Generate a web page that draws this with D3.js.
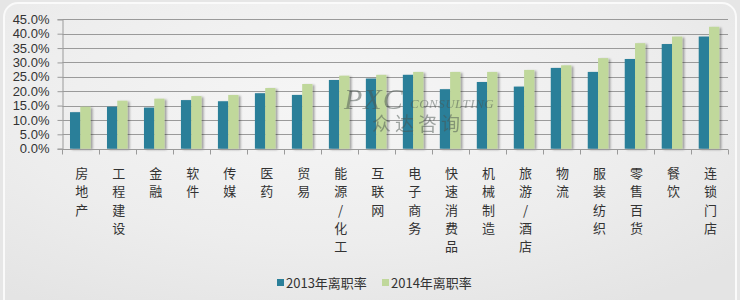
<!DOCTYPE html>
<html><head><meta charset="utf-8">
<script src="https://cdn.jsdelivr.net/npm/d3@7"></script>
<style>html,body{margin:0;padding:0;background:#e9e9e9;}svg{display:block;}</style>
</head><body>
<script>
const categories = ["房地产","工程建设","金融","软件","传媒","医药","贸易","能源/化工","互联网","电子商务","快速消费品","机械制造","旅游/酒店","物流","服装纺织","零售百货","餐饮","连锁门店"];
const v2013 = [12.7,14.6,14.3,16.9,16.5,19.3,18.7,23.9,24.4,25.7,20.7,23.2,21.6,28.1,26.7,31.2,36.4,39.0];
const v2014 = [14.6,16.7,17.4,18.3,18.7,21.1,22.5,25.4,25.7,26.7,26.7,26.7,27.4,29.0,31.5,36.7,39.0,42.4];
const seriesNames = ["2013年离职率","2014年离职率"];
const seriesColors = ["#2a7f99","#c0d89b"];
const yTicks = [0,5,10,15,20,25,30,35,40,45];

const W=740,H=300;
const svg=d3.select("body").append("svg").attr("width",W).attr("height",H);
const defs=svg.append("defs");
const rg=defs.append("radialGradient").attr("id","bg").attr("cx","0.45").attr("cy","0.3").attr("r","0.75");
rg.append("stop").attr("offset","0").attr("stop-color","#f6f6f6");
rg.append("stop").attr("offset","0.6").attr("stop-color","#ededed");
rg.append("stop").attr("offset","1").attr("stop-color","#e4e4e4");
const f=defs.append("filter").attr("id","sh").attr("x","-20%").attr("y","-10%").attr("width","160%").attr("height","130%");
f.append("feDropShadow").attr("dx",2).attr("dy",1).attr("stdDeviation",1.2).attr("flood-color","#000").attr("flood-opacity",0.35);

svg.append("rect").attr("width",W).attr("height",H).attr("fill","#e6e6e6");
svg.append("rect").attr("x",4).attr("y",3).attr("width",W-8).attr("height",H+20).attr("rx",14)
  .attr("fill","url(#bg)").attr("stroke","#fafafa").attr("stroke-width",2);

const x=d3.scaleBand().domain(categories).range([62.3,728]).padding(0);
const bw=x.bandwidth();
const x1=d3.scaleBand().domain(seriesNames).range([bw*0.208,bw*0.208+bw*0.557]).padding(0);
const y=d3.scaleLinear().domain([0,45]).range([148.7,19.3]);

// grid
svg.append("g").selectAll("line").data(yTicks.slice(1)).join("line")
  .attr("x1",62.3).attr("x2",728).attr("y1",d=>Math.round(y(d))+0.5).attr("y2",d=>Math.round(y(d))+0.5)
  .attr("stroke","#9a9a9a").attr("stroke-width",1);

// y axis
const ya=svg.append("g").attr("transform","translate(62.5,0)")
  .call(d3.axisLeft(y).tickValues(yTicks).tickSize(5).tickPadding(8).tickFormat(d=>d.toFixed(1)+"%"));
ya.select(".domain").attr("stroke","#9a9a9a");
ya.selectAll(".tick line").attr("stroke","#9a9a9a");
ya.selectAll("text").attr("font-family","'Liberation Sans',Arial,sans-serif").attr("font-size",13).attr("fill","#333");

// bars
const series=[v2013,v2014];
const gb=svg.append("g").attr("filter","url(#sh)");
series.forEach((vals,si)=>{
  gb.selectAll(".b"+si).data(categories).join("rect").attr("class","b"+si)
    .attr("x",c=>x(c)+x1(seriesNames[si])).attr("width",x1.bandwidth())
    .attr("y",(c,i)=>y(vals[i])).attr("height",(c,i)=>y(0)-y(vals[i]))
    .attr("fill",seriesColors[si]);
});

// x axis
const xa=svg.append("g").attr("transform","translate(0,"+(Math.round(y(0))+0.5)+")");
xa.append("line").attr("x1",62.3).attr("x2",728).attr("stroke","#9a9a9a");
const bounds=categories.map(c=>x(c)).concat([x.range()[1]]);
xa.selectAll(".t").data(bounds).join("line").attr("class","t")
  .attr("x1",d=>Math.round(d)+0.5).attr("x2",d=>Math.round(d)+0.5).attr("y1",0).attr("y2",5).attr("stroke","#9a9a9a");

// category labels (vertical)
const lab=svg.append("g").attr("font-family","'Noto Sans CJK SC',sans-serif").attr("font-size",13).attr("fill","#333").attr("text-anchor","middle");
categories.forEach(c=>{
  const t=lab.append("text").attr("x",x(c)+bw/2+1).attr("y",178);
  Array.from(c).forEach((ch,i)=>{
    t.append("tspan").attr("x",x(c)+bw/2+1).attr("y",178+i*18.3).text(ch);
  });
});

// legend
const lg=svg.append("g").attr("font-family","'Noto Sans CJK SC',sans-serif").attr("font-size",13).attr("fill","#333");
const lx=[277,382];
seriesNames.forEach((n,i)=>{
  lg.append("rect").attr("x",lx[i]).attr("y",279).attr("width",7).attr("height",7).attr("fill",seriesColors[i]);
  lg.append("text").attr("x",lx[i]+9).attr("y",288).text(n);
});

// watermark
const wm=svg.append("g").attr("opacity",0.5).attr("fill","#4a5550");
wm.append("text").attr("x",344).attr("y",109).attr("font-family","'Liberation Serif',serif").attr("font-style","italic").attr("font-size",30).attr("letter-spacing",1).text("PXC");
wm.append("text").attr("x",410).attr("y",108).attr("font-family","'Liberation Serif',serif").attr("font-style","italic").attr("font-size",13).attr("letter-spacing",0.5).text("CONSULTING");
wm.append("text").attr("x",372).attr("y",131).attr("font-family","'Noto Sans CJK SC',serif").attr("font-size",19).attr("letter-spacing",4).text("众达咨询");
</script>
</body></html>
